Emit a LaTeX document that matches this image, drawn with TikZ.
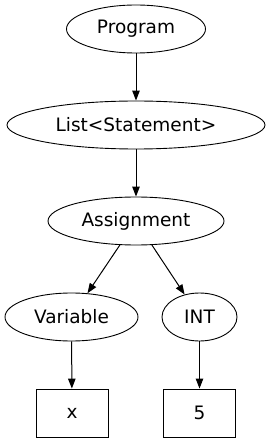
\documentclass[tikz,border=0pt]{standalone}
\usepackage{fontspec}
\setmainfont{DejaVu Sans}
\usepackage{tikz}
\usetikzlibrary{arrows.meta,shapes.geometric}

\begin{document}
\begin{tikzpicture}[x=1pt,y=-1pt,
  font=\fontsize{18.5}{22}\selectfont,
  oval/.style={draw,ellipse,line width=0.9pt,inner sep=0pt,minimum height=48pt},
  leaf/.style={draw,rectangle,line width=0.9pt,inner sep=0pt,minimum width=72pt,minimum height=48pt},
  arr/.style={-{Triangle[length=10pt,width=7.5pt]},line width=1pt}]
  \useasboundingbox (0,0) rectangle (269,443);

  % Root and list
  \node[oval,minimum width=139pt] (prog)   at (136,29)    {Program};
  \node[oval,minimum width=258pt] (stmts)  at (136,125)   {List<Statement>};

  % Assignment
  \node[oval,minimum width=176pt] (assign) at (136,221)   {Assignment};

  % Operands
  \node[oval,minimum width=133pt] (var)    at (71.5,317)  {Variable};
  \node[oval,minimum width=75pt]  (int)    at (199.5,317) {INT};

  % Leaves
  \node[leaf] (x)    at (72,413)    {x};
  \node[leaf] (five) at (199.5,413) {5};

  % Edges
  \draw[arr] (prog)   -- (stmts);
  \draw[arr] (stmts)  -- (assign);
  \draw[arr] (assign) -- (var);
  \draw[arr] (assign) -- (int);
  \draw[arr] (var)    -- (x);
  \draw[arr] (int)    -- (five);
\end{tikzpicture}
\end{document}
